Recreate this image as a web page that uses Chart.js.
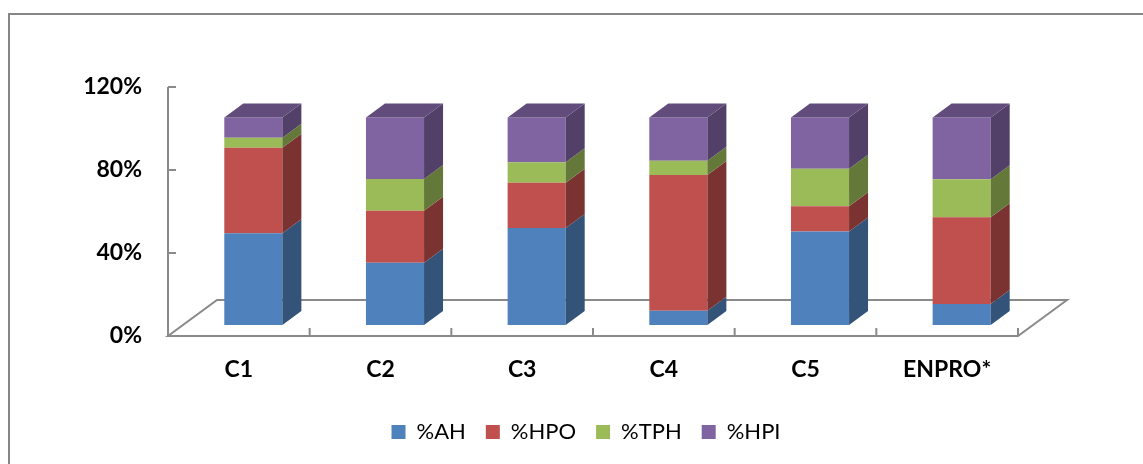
<!DOCTYPE html>
<html>
<head>
<meta charset="utf-8">
<title>Fractions</title>
<script src="https://cdn.jsdelivr.net/npm/chart.js@4.4.0/dist/chart.umd.min.js"></script>
<style>
  html, body { margin: 0; padding: 0; background: #fff; }
  #wrap { width: 1143px; height: 464px; }
</style>
</head>
<body>
<div id="wrap"><canvas id="chart" width="1143" height="464"></canvas></div>
<script>
// fractions per sample, in % of total
const samples = ['C1', 'C2', 'C3', 'C4', 'C5', 'ENPRO*'];
const ah  = [44.2, 30.0, 46.7, 6.9, 45.1, 10.1];
const hpo = [41.2, 25.1, 21.9, 65.4, 12.1, 41.8];
const tph = [4.9, 15.3, 9.8, 6.9, 18.1, 18.3];
const hpi = [9.7, 29.6, 21.6, 20.8, 24.7, 29.8];
const yTicks = [0, 40, 80, 120];

// depth of the floor and of the boxes, bars sit a bit behind the front edge
const floorDX = 49, floorDY = 36;
const boxDX = 19, boxDY = 14;
const barDX = 14.5, barDY = 11;
const lineColor = '#8a8a8a';

function shade(hex, f) {
  const n = parseInt(hex.slice(1), 16);
  const r = Math.round(((n >> 16) & 255) * f);
  const g = Math.round(((n >> 8) & 255) * f);
  const b = Math.round((n & 255) * f);
  return `rgb(${r},${g},${b})`;
}

const box3d = {
  id: 'box3d',
  beforeDraw(chart) {
    const ctx = chart.ctx;
    ctx.save();
    ctx.strokeStyle = '#868686';
    ctx.lineWidth = 2;
    ctx.strokeRect(9, 14, 1400, 700);
    ctx.restore();
  },
  beforeDatasetsDraw(chart) {
    const { ctx, chartArea: a, scales } = chart;
    ctx.save();
    ctx.strokeStyle = lineColor;
    ctx.lineWidth = 2;
    ctx.beginPath();
    // floor
    ctx.moveTo(a.left, a.bottom);
    ctx.lineTo(a.right, a.bottom);
    ctx.lineTo(a.right + floorDX, a.bottom - floorDY);
    ctx.lineTo(a.left + floorDX, a.bottom - floorDY);
    ctx.closePath();
    // value axis
    ctx.moveTo(a.left, a.top);
    ctx.lineTo(a.left, a.bottom);
    // tick marks point inward
    yTicks.slice(1).forEach(v => {
      const y = scales.y.getPixelForValue(v);
      ctx.moveTo(a.left, y);
      ctx.lineTo(a.left + 8, y);
    });
    const step = (a.right - a.left) / samples.length;
    samples.forEach((s, i) => {
      const x = scales.x.getPixelForValue(i) + step / 2;
      ctx.moveTo(x, a.bottom);
      ctx.lineTo(x, a.bottom - 8);
    });
    ctx.stroke();
    ctx.restore();

    ctx.save();
    ctx.translate(barDX, -barDY);
  },
  afterDatasetsDraw(chart) {
    const ctx = chart.ctx;
    const last = chart.data.datasets.length - 1;
    chart.data.datasets.forEach((ds, i) => {
      const meta = chart.getDatasetMeta(i);
      meta.data.forEach(bar => {
        const { x, y, base, width } = bar.getProps(['x', 'y', 'base', 'width'], true);
        const l = x - width / 2, r = x + width / 2;
        const top = Math.min(y, base), bot = Math.max(y, base);
        ctx.fillStyle = shade(ds.backgroundColor, 0.64);
        ctx.beginPath();
        ctx.moveTo(r, bot);
        ctx.lineTo(r + boxDX, bot - boxDY);
        ctx.lineTo(r + boxDX, top - boxDY);
        ctx.lineTo(r, top);
        ctx.closePath();
        ctx.fill();
        if (i === last) {
          ctx.fillStyle = shade(ds.backgroundColor, 0.76);
          ctx.beginPath();
          ctx.moveTo(l, top);
          ctx.lineTo(l + boxDX, top - boxDY);
          ctx.lineTo(r + boxDX, top - boxDY);
          ctx.lineTo(r, top);
          ctx.closePath();
          ctx.fill();
        }
      });
    });
    ctx.restore();
  }
};

Chart.defaults.font.family = 'Lato';
Chart.defaults.color = '#000';

new Chart(document.getElementById('chart'), {
  type: 'bar',
  data: {
    labels: samples,
    datasets: [
      { label: '%AH', data: ah, backgroundColor: '#4F81BD' },
      { label: '%HPO', data: hpo, backgroundColor: '#C0504D' },
      { label: '%TPH', data: tph, backgroundColor: '#9BBB59' },
      { label: '%HPI', data: hpi, backgroundColor: '#8064A2' }
    ]
  },
  options: {
    responsive: false,
    animation: false,
    layout: { padding: { top: 87, right: 0, bottom: 11, left: 29 } },
    datasets: { bar: { barPercentage: 0.41, categoryPercentage: 1, borderWidth: 0, clip: false } },
    plugins: {
      tooltip: { enabled: false },
      legend: {
        position: 'bottom',
        labels: { boxWidth: 14, boxHeight: 14, padding: 20, font: { size: 22 } }
      }
    },
    scales: {
      x: {
        stacked: true,
        grid: { display: false, drawTicks: false },
        border: { display: false },
        ticks: { padding: 20, font: { size: 23, weight: 'bold' } },
        afterFit: s => { s.height = 65; }
      },
      y: {
        stacked: true,
        min: 0,
        max: 120,
        grid: { display: false, drawTicks: false },
        border: { display: false },
        afterBuildTicks: s => { s.ticks = yTicks.map(v => ({ value: v })); },
        ticks: { padding: 26, font: { size: 23, weight: 'bold' }, callback: v => v + '%' },
        afterFit: s => { s.width = 139; }
      },
      // empty strip on the right, keeps the plot narrower than the legend row
      right: {
        position: 'right',
        grid: { display: false, drawTicks: false },
        border: { display: false },
        ticks: { display: false },
        afterFit: s => { s.width = 125; }
      }
    }
  },
  plugins: [box3d]
});
</script>
</body>
</html>
